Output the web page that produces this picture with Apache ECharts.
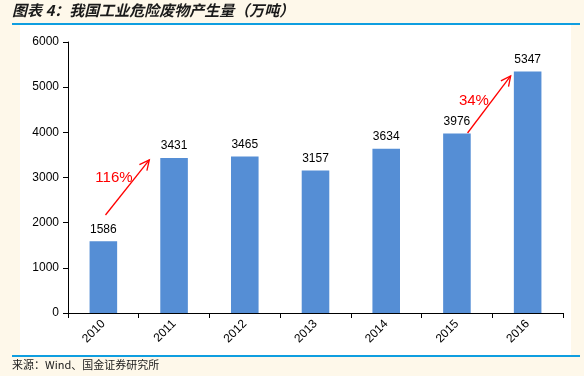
<!DOCTYPE html>
<html><head><meta charset="utf-8">
<script src="https://cdn.jsdelivr.net/npm/echarts@6/dist/echarts.min.js"></script>
<style>html,body{margin:0;padding:0;background:#fef8ea;}#c{width:584px;height:376px;}</style>
</head><body><div id="c"></div>
<script>
const categories = ['2010','2011','2012','2013','2014','2015','2016'];
const values = [1586, 3431, 3465, 3157, 3634, 3976, 5347];
const yTicks = [0, 1000, 2000, 3000, 4000, 5000, 6000];
// growth annotations in data space: [categoryIndex, value]
const growthArrows = [
  {from: [0.03, 2170], to: [0.65, 3390], text: '116%', label: [0.15, 3000]},
  {from: [5.15, 3985], to: [5.76, 5250], text: '34%', label: [5.24, 4700]}
];

const chart = echarts.init(document.getElementById('c'));
const font = '"Liberation Sans", Arial, sans-serif';
chart.setOption({
  animation: false,
  backgroundColor: '#fef8ea',
  grid: {left: 68, right: 21, top: 42, bottom: 63},
  xAxis: {
    type: 'category', data: categories,
    axisLine: {lineStyle: {color: '#000', width: 1}},
    axisTick: {show: true, alignWithLabel: false, length: 5, lineStyle: {color: '#000'}},
    axisLabel: {rotate: 45, color: '#000', fontFamily: font, fontSize: 12, margin: 9}
  },
  yAxis: {
    type: 'value', min: yTicks[0], max: yTicks[yTicks.length-1], interval: 1000,
    axisLine: {show: true, lineStyle: {color: '#000'}},
    axisTick: {show: true, length: 5, lineStyle: {color: '#000'}},
    splitLine: {show: false},
    axisLabel: {color: '#000', fontFamily: font, fontSize: 12, margin: 9, formatter: v => String(v)}
  },
  series: [{
    type: 'bar', data: values, barWidth: '39%',
    itemStyle: {color: '#558ed5'},
    label: {show: true, position: 'top', distance: 6, color: '#000', fontFamily: font, fontSize: 12}
  }]
});

function toPx(ix, v) {
  const i0 = Math.min(Math.floor(ix), categories.length - 2);
  const a = chart.convertToPixel({gridIndex: 0}, [i0, v]);
  const b = chart.convertToPixel({gridIndex: 0}, [i0 + 1, v]);
  return [a[0] + (ix - i0) * (b[0] - a[0]), a[1]];
}
const graphics = [
  {type: 'rect', silent: true, z: -10, shape: {x: 20, y: 25, width: 551, height: 331}, style: {fill: '#ffffff'}},
  {type: 'rect', silent: true, shape: {x: 12, y: 23, width: 568, height: 2}, style: {fill: '#0f9ee0'}},
  {type: 'rect', silent: true, shape: {x: 12, y: 355, width: 568, height: 2}, style: {fill: '#0f9ee0'}},
  {type: 'text', silent: true, x: 12, y: 3, style: {text: '图表 4：我国工业危险废物产生量（万吨）', fill: '#1a1a1a', font: 'italic bold 15px "Noto Sans CJK SC", sans-serif'}},
  {type: 'text', silent: true, x: 12, y: 359, style: {text: '来源：Wind、国金证券研究所', fill: '#1a1a1a', font: '11px "Noto Sans CJK SC", sans-serif'}}
];
growthArrows.forEach(g => {
  const p1 = toPx(g.from[0], g.from[1]);
  const p2 = toPx(g.to[0], g.to[1]);
  const lp = toPx(g.label[0], g.label[1]);
  const ang = Math.atan2(p2[1] - p1[1], p2[0] - p1[0]);
  const L = 11, spread = 0.45;
  graphics.push({type: 'line', silent: true, shape: {x1: p1[0], y1: p1[1], x2: p2[0], y2: p2[1]}, style: {stroke: '#ff0000', lineWidth: 1.3}});
  graphics.push({type: 'polyline', silent: true, shape: {points: [
    [p2[0] - L * Math.cos(ang - spread), p2[1] - L * Math.sin(ang - spread)],
    p2,
    [p2[0] - L * Math.cos(ang + spread), p2[1] - L * Math.sin(ang + spread)]
  ]}, style: {stroke: '#ff0000', lineWidth: 1.3, fill: null}});
  graphics.push({type: 'text', silent: true, x: lp[0], y: lp[1], style: {text: g.text, fill: '#ff0000', font: '15px "Liberation Sans", Arial, sans-serif', align: 'center', verticalAlign: 'middle'}});
});
chart.setOption({graphic: graphics});
</script></body></html>
